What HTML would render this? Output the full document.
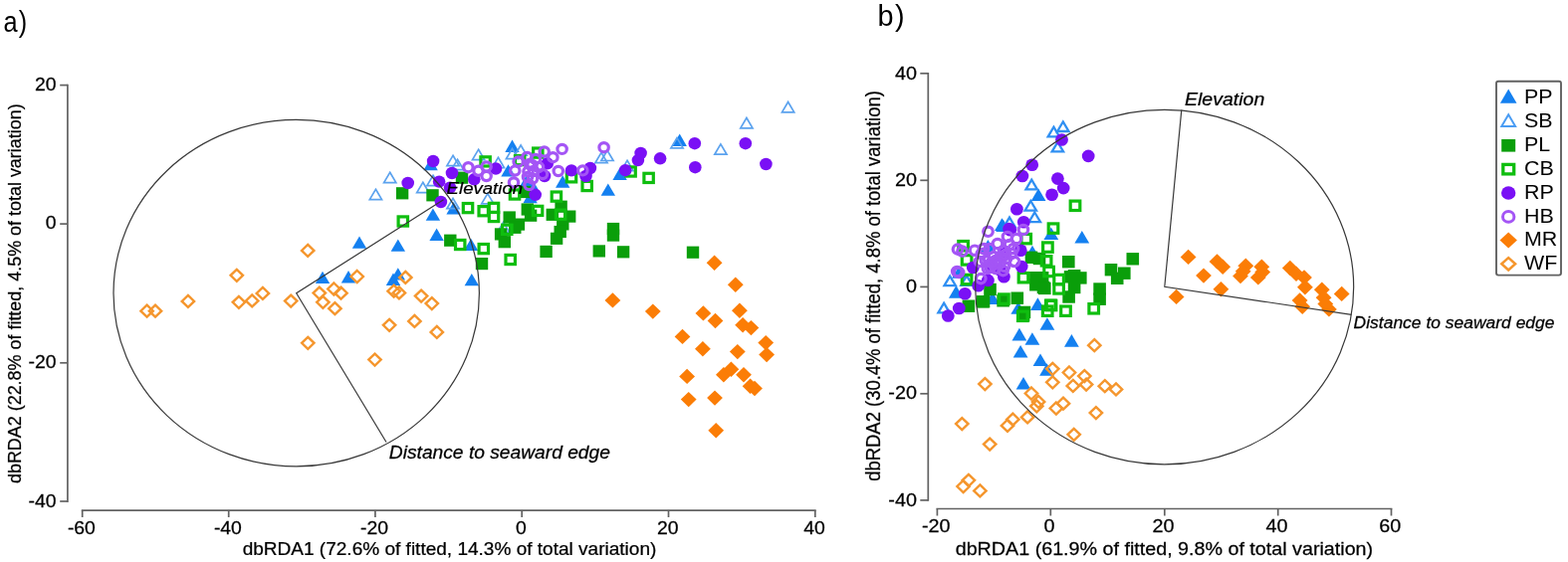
<!DOCTYPE html>
<html lang="en"><head><meta charset="utf-8"><title>dbRDA ordination</title>
<style>html,body{margin:0;padding:0;background:#fff;}body{width:1575px;height:565px;overflow:hidden;}svg{display:block;}text{font-family:"Liberation Sans",sans-serif;fill:#000;stroke:#000;stroke-width:0.25px;}.lb{font-style:italic;}.pl{stroke-width:0;}.pn{stroke-width:0;letter-spacing:1.5px;}.ax{stroke:#626262;stroke-width:1.7;fill:none;}.vc{stroke:#383838;stroke-width:1.2;fill:none;}</style></head><body>
<svg width="1575" height="565" viewBox="0 0 1575 565" role="img" aria-label="dbRDA ordination plots a and b">
<rect width="1575" height="565" fill="#fff"/>
<text class="pn" transform="translate(3.4 31.6) scale(0.880 1)" font-size="28.8" text-anchor="start">a)</text>
<text class="pn" transform="translate(881.4 26.3)" font-size="28.8" text-anchor="start">b)</text>
<path class="ax" d="M67.9 84.7 V504.9"/>
<path class="ax" d="M60.2 85.6 H67.9"/>
<text transform="translate(56.6 90.8) scale(1.060 1)" font-size="18.3" text-anchor="end">20</text>
<path class="ax" d="M60.2 225.1 H67.9"/>
<text transform="translate(56.6 230.1) scale(1.060 1)" font-size="18.3" text-anchor="end">0</text>
<path class="ax" d="M60.2 364.8 H67.9"/>
<text transform="translate(56.6 370.3) scale(1.060 1)" font-size="18.3" text-anchor="end">-20</text>
<path class="ax" d="M60.2 504 H67.9"/>
<text transform="translate(56.6 510.2) scale(1.060 1)" font-size="18.3" text-anchor="end">-40</text>
<path class="ax" d="M81.8 513.1 H819.7"/>
<path class="ax" d="M82.7 513.1 V520"/>
<text transform="translate(81.9 536.6) scale(1.060 1)" font-size="18.3" text-anchor="middle">-60</text>
<path class="ax" d="M229.7 513.1 V520"/>
<text transform="translate(228.9 536.6) scale(1.060 1)" font-size="18.3" text-anchor="middle">-40</text>
<path class="ax" d="M376.9 513.1 V520"/>
<text transform="translate(376.1 536.6) scale(1.060 1)" font-size="18.3" text-anchor="middle">-20</text>
<path class="ax" d="M524.2 513.1 V520"/>
<text transform="translate(523.4 536.6) scale(1.060 1)" font-size="18.3" text-anchor="middle">0</text>
<path class="ax" d="M671.5 513.1 V520"/>
<text transform="translate(670.7 536.6) scale(1.060 1)" font-size="18.3" text-anchor="middle">20</text>
<path class="ax" d="M818.8 513.1 V520"/>
<text transform="translate(818 536.6) scale(1.060 1)" font-size="18.3" text-anchor="middle">40</text>
<text transform="translate(451.5 557.8) scale(1.041 1)" font-size="18.3" text-anchor="middle">dbRDA1 (72.6% of fitted, 14.3% of total variation)</text>
<text transform="translate(21 295.2) rotate(-90) scale(0.944 1)" font-size="19" text-anchor="middle">dbRDA2 (22.8% of fitted, 4.5% of total variation)</text>
<path class="ax" d="M932.3 72.9 V503.8"/>
<path class="ax" d="M924.3 73.8 H932.3"/>
<text transform="translate(921 79.8) scale(1.060 1)" font-size="18.7" text-anchor="end">40</text>
<path class="ax" d="M924.3 181.3 H932.3"/>
<text transform="translate(921 186.7) scale(1.060 1)" font-size="18.7" text-anchor="end">20</text>
<path class="ax" d="M924.3 288.4 H932.3"/>
<text transform="translate(921 293.7) scale(1.060 1)" font-size="18.7" text-anchor="end">0</text>
<path class="ax" d="M924.3 395.8 H932.3"/>
<text transform="translate(921 400.9) scale(1.060 1)" font-size="18.7" text-anchor="end">-20</text>
<path class="ax" d="M924.3 502.9 H932.3"/>
<text transform="translate(921 509.4) scale(1.060 1)" font-size="18.7" text-anchor="end">-40</text>
<path class="ax" d="M940.5 511.5 H1398.4"/>
<path class="ax" d="M941.4 511.5 V518.5"/>
<text transform="translate(940.2 535.2) scale(1.060 1)" font-size="18.7" text-anchor="middle">-20</text>
<path class="ax" d="M1055.3 511.5 V518.5"/>
<text transform="translate(1054.1 535.2) scale(1.060 1)" font-size="18.7" text-anchor="middle">0</text>
<path class="ax" d="M1169.8 511.5 V518.5"/>
<text transform="translate(1168.6 535.2) scale(1.060 1)" font-size="18.7" text-anchor="middle">20</text>
<path class="ax" d="M1283.7 511.5 V518.5"/>
<text transform="translate(1282.5 535.2) scale(1.060 1)" font-size="18.7" text-anchor="middle">40</text>
<path class="ax" d="M1397.5 511.5 V518.5"/>
<text transform="translate(1396.3 535.2) scale(1.060 1)" font-size="18.7" text-anchor="middle">60</text>
<text transform="translate(1169.4 557.6) scale(1.054 1)" font-size="18.7" text-anchor="middle">dbRDA1 (61.9% of fitted, 9.8% of total variation)</text>
<text transform="translate(883.6 287.5) rotate(-90) scale(0.951 1)" font-size="19.4" text-anchor="middle">dbRDA2 (30.4% of fitted, 4.8% of total variation)</text>
<g id="pts-a">
<polygon points="324,272.7 331.2,285.1 316.8,285.1" fill="#1480f0"/>
<polygon points="350,272 357.2,284.4 342.8,284.4" fill="#1480f0"/>
<polygon points="361,237.4 368.2,249.8 353.8,249.8" fill="#1480f0"/>
<polygon points="399.8,240.4 407,252.8 392.6,252.8" fill="#1480f0"/>
<polygon points="438.6,229.6 445.8,242 431.4,242" fill="#1480f0"/>
<polygon points="473.1,239.7 480.3,252.1 465.9,252.1" fill="#1480f0"/>
<polygon points="395,274.6 402.2,287 387.8,287" fill="#1480f0"/>
<polygon points="399.8,269.2 407,281.6 392.6,281.6" fill="#1480f0"/>
<polygon points="473.8,274.9 481,287.3 466.6,287.3" fill="#1480f0"/>
<polygon points="432.6,158.8 439.8,171.2 425.4,171.2" fill="#1480f0"/>
<polygon points="434.9,209.4 442.1,221.8 427.7,221.8" fill="#1480f0"/>
<polygon points="455.6,203.1 462.8,215.5 448.4,215.5" fill="#1480f0"/>
<polygon points="514.5,140.6 521.7,153 507.3,153" fill="#1480f0"/>
<polygon points="510.5,165.2 517.7,177.6 503.3,177.6" fill="#1480f0"/>
<polygon points="682.7,134.5 689.9,146.9 675.5,146.9" fill="#1480f0"/>
<polygon points="622.6,168.6 629.8,181 615.4,181" fill="#1480f0"/>
<polygon points="565.2,176.3 572.4,188.7 558,188.7" fill="#1480f0"/>
<polygon points="532.6,191.8 539.8,204.2 525.4,204.2" fill="#1480f0"/>
<polygon points="533.3,177.8 540.5,190.2 526.1,190.2" fill="#1480f0"/>
<polygon points="610.8,184.4 618,196.8 603.6,196.8" fill="#1480f0"/>
<polygon points="529.3,175 536.5,187.4 522.1,187.4" fill="#1480f0"/>
<polygon points="391.7,173.3 397.8,183.6 385.6,183.6" fill="none" stroke="#5ba2ee" stroke-width="1.7"/>
<polygon points="377.4,190.3 383.5,200.6 371.3,200.6" fill="none" stroke="#5ba2ee" stroke-width="1.7"/>
<polygon points="424.8,183.3 430.9,193.6 418.7,193.6" fill="none" stroke="#5ba2ee" stroke-width="1.7"/>
<polygon points="435,176.3 441.1,186.6 428.9,186.6" fill="none" stroke="#5ba2ee" stroke-width="1.7"/>
<polygon points="455,156.3 461.1,166.6 448.9,166.6" fill="none" stroke="#5ba2ee" stroke-width="1.7"/>
<polygon points="459.5,160.3 465.6,170.6 453.4,170.6" fill="none" stroke="#5ba2ee" stroke-width="1.7"/>
<polygon points="480.6,150.3 486.7,160.6 474.5,160.6" fill="none" stroke="#5ba2ee" stroke-width="1.7"/>
<polygon points="489.8,194.6 495.9,204.9 483.7,204.9" fill="none" stroke="#5ba2ee" stroke-width="1.7"/>
<polygon points="455,199.4 461.1,209.7 448.9,209.7" fill="none" stroke="#5ba2ee" stroke-width="1.7"/>
<polygon points="514.5,149.4 520.6,159.7 508.4,159.7" fill="none" stroke="#5ba2ee" stroke-width="1.7"/>
<polygon points="523.1,146 529.2,156.2 517,156.2" fill="none" stroke="#5ba2ee" stroke-width="1.7"/>
<polygon points="500.4,158.3 506.5,168.6 494.3,168.6" fill="none" stroke="#5ba2ee" stroke-width="1.7"/>
<polygon points="604,153.4 610.1,163.7 597.9,163.7" fill="none" stroke="#5ba2ee" stroke-width="1.7"/>
<polygon points="610,151.2 616.1,161.5 603.9,161.5" fill="none" stroke="#5ba2ee" stroke-width="1.7"/>
<polygon points="630,161.3 636.1,171.6 623.9,171.6" fill="none" stroke="#5ba2ee" stroke-width="1.7"/>
<polygon points="680,138.6 686.1,148.9 673.9,148.9" fill="none" stroke="#5ba2ee" stroke-width="1.7"/>
<polygon points="723.9,144.9 730,155.2 717.8,155.2" fill="none" stroke="#5ba2ee" stroke-width="1.7"/>
<polygon points="749.9,118.5 756,128.8 743.8,128.8" fill="none" stroke="#5ba2ee" stroke-width="1.7"/>
<polygon points="791.6,102.5 797.7,112.8 785.5,112.8" fill="none" stroke="#5ba2ee" stroke-width="1.7"/>
<polygon points="505.6,223.3 511.7,233.6 499.5,233.6" fill="none" stroke="#5ba2ee" stroke-width="1.7"/>
<rect x="446.1" y="235.6" width="12.4" height="12.2" fill="#0a9e0a"/>
<rect x="477.8" y="259" width="12.4" height="12.2" fill="#0a9e0a"/>
<rect x="397.9" y="188.2" width="12.4" height="12.2" fill="#0a9e0a"/>
<rect x="428.3" y="190.2" width="12.4" height="12.2" fill="#0a9e0a"/>
<rect x="457.8" y="172.6" width="12.4" height="12.2" fill="#0a9e0a"/>
<rect x="520.8" y="186.9" width="12.4" height="12.2" fill="#0a9e0a"/>
<rect x="505.5" y="212.4" width="12.4" height="12.2" fill="#0a9e0a"/>
<rect x="514.7" y="219.5" width="12.4" height="12.2" fill="#0a9e0a"/>
<rect x="511.1" y="222.7" width="12.4" height="12.2" fill="#0a9e0a"/>
<rect x="496.9" y="229.3" width="12.4" height="12.2" fill="#0a9e0a"/>
<rect x="500.6" y="237.1" width="12.4" height="12.2" fill="#0a9e0a"/>
<rect x="523.6" y="204.4" width="12.4" height="12.2" fill="#0a9e0a"/>
<rect x="526.9" y="210.6" width="12.4" height="12.2" fill="#0a9e0a"/>
<rect x="557.4" y="201.6" width="12.4" height="12.2" fill="#0a9e0a"/>
<rect x="548.6" y="209.7" width="12.4" height="12.2" fill="#0a9e0a"/>
<rect x="566" y="211.5" width="12.4" height="12.2" fill="#0a9e0a"/>
<rect x="559.1" y="219.3" width="12.4" height="12.2" fill="#0a9e0a"/>
<rect x="556.5" y="226.9" width="12.4" height="12.2" fill="#0a9e0a"/>
<rect x="552.9" y="233.7" width="12.4" height="12.2" fill="#0a9e0a"/>
<rect x="542.4" y="246.8" width="12.4" height="12.2" fill="#0a9e0a"/>
<rect x="609.8" y="223.9" width="12.4" height="12.2" fill="#0a9e0a"/>
<rect x="609.8" y="230.5" width="12.4" height="12.2" fill="#0a9e0a"/>
<rect x="595.6" y="246.3" width="12.4" height="12.2" fill="#0a9e0a"/>
<rect x="619.9" y="247.2" width="12.4" height="12.2" fill="#0a9e0a"/>
<rect x="689.8" y="247.6" width="12.4" height="12.2" fill="#0a9e0a"/>
<rect x="457.5" y="241.4" width="9.4" height="9.2" fill="none" stroke="#0fbe0f" stroke-width="3.2"/>
<rect x="481.1" y="245.5" width="9.4" height="9.2" fill="none" stroke="#0fbe0f" stroke-width="3.2"/>
<rect x="508" y="256.4" width="9.4" height="9.2" fill="none" stroke="#0fbe0f" stroke-width="3.2"/>
<rect x="400.1" y="217.9" width="9.4" height="9.2" fill="none" stroke="#0fbe0f" stroke-width="3.2"/>
<rect x="465.3" y="204.5" width="9.4" height="9.2" fill="none" stroke="#0fbe0f" stroke-width="3.2"/>
<rect x="481" y="207.6" width="9.4" height="9.2" fill="none" stroke="#0fbe0f" stroke-width="3.2"/>
<rect x="491.3" y="204.3" width="9.4" height="9.2" fill="none" stroke="#0fbe0f" stroke-width="3.2"/>
<rect x="491.3" y="213.4" width="9.4" height="9.2" fill="none" stroke="#0fbe0f" stroke-width="3.2"/>
<rect x="512.3" y="190.9" width="9.4" height="9.2" fill="none" stroke="#0fbe0f" stroke-width="3.2"/>
<rect x="535.4" y="207.3" width="9.4" height="9.2" fill="none" stroke="#0fbe0f" stroke-width="3.2"/>
<rect x="554.2" y="193" width="9.4" height="9.2" fill="none" stroke="#0fbe0f" stroke-width="3.2"/>
<rect x="585" y="182.4" width="9.4" height="9.2" fill="none" stroke="#0fbe0f" stroke-width="3.2"/>
<rect x="558.4" y="211.1" width="9.4" height="9.2" fill="none" stroke="#0fbe0f" stroke-width="3.2"/>
<rect x="504.6" y="226.2" width="9.4" height="9.2" fill="none" stroke="#0fbe0f" stroke-width="3.2"/>
<rect x="482.9" y="157.8" width="9.4" height="9.2" fill="none" stroke="#0fbe0f" stroke-width="3.2"/>
<rect x="535.6" y="149" width="9.4" height="9.2" fill="none" stroke="#0fbe0f" stroke-width="3.2"/>
<rect x="517.5" y="156.5" width="9.4" height="9.2" fill="none" stroke="#0fbe0f" stroke-width="3.2"/>
<rect x="646.9" y="174.3" width="9.4" height="9.2" fill="none" stroke="#0fbe0f" stroke-width="3.2"/>
<rect x="628.9" y="167.9" width="9.4" height="9.2" fill="none" stroke="#0fbe0f" stroke-width="3.2"/>
<rect x="569.3" y="173.7" width="9.4" height="9.2" fill="none" stroke="#0fbe0f" stroke-width="3.2"/>
<ellipse cx="435.1" cy="162" rx="6.3" ry="6.2" fill="#7a10f5"/>
<ellipse cx="409.7" cy="184" rx="6.3" ry="6.2" fill="#7a10f5"/>
<ellipse cx="441.1" cy="182.6" rx="6.3" ry="6.2" fill="#7a10f5"/>
<ellipse cx="454" cy="174" rx="6.3" ry="6.2" fill="#7a10f5"/>
<ellipse cx="442.9" cy="203" rx="6.3" ry="6.2" fill="#7a10f5"/>
<ellipse cx="476.3" cy="180.3" rx="6.3" ry="6.2" fill="#7a10f5"/>
<ellipse cx="452" cy="188.6" rx="6.3" ry="6.2" fill="#7a10f5"/>
<ellipse cx="498" cy="169.5" rx="6.3" ry="6.2" fill="#7a10f5"/>
<ellipse cx="537.7" cy="195.8" rx="6.3" ry="6.2" fill="#7a10f5"/>
<ellipse cx="547" cy="177" rx="6.3" ry="6.2" fill="#7a10f5"/>
<ellipse cx="549.8" cy="164.3" rx="6.3" ry="6.2" fill="#7a10f5"/>
<ellipse cx="574" cy="171.4" rx="6.3" ry="6.2" fill="#7a10f5"/>
<ellipse cx="592.9" cy="169" rx="6.3" ry="6.2" fill="#7a10f5"/>
<ellipse cx="588.5" cy="177" rx="6.3" ry="6.2" fill="#7a10f5"/>
<ellipse cx="628.2" cy="171.2" rx="6.3" ry="6.2" fill="#7a10f5"/>
<ellipse cx="640.9" cy="161.1" rx="6.3" ry="6.2" fill="#7a10f5"/>
<ellipse cx="643.6" cy="154" rx="6.3" ry="6.2" fill="#7a10f5"/>
<ellipse cx="663.1" cy="159.3" rx="6.3" ry="6.2" fill="#7a10f5"/>
<ellipse cx="697.8" cy="144.2" rx="6.3" ry="6.2" fill="#7a10f5"/>
<ellipse cx="698.3" cy="168.2" rx="6.3" ry="6.2" fill="#7a10f5"/>
<ellipse cx="748.8" cy="144.2" rx="6.3" ry="6.2" fill="#7a10f5"/>
<ellipse cx="769.4" cy="165" rx="6.3" ry="6.2" fill="#7a10f5"/>
<ellipse cx="470.4" cy="168.2" rx="4.7" ry="4.6" fill="none" stroke="#a455f5" stroke-width="3.2"/>
<ellipse cx="480.5" cy="171.8" rx="4.7" ry="4.6" fill="none" stroke="#a455f5" stroke-width="3.2"/>
<ellipse cx="488.6" cy="177" rx="4.7" ry="4.6" fill="none" stroke="#a455f5" stroke-width="3.2"/>
<ellipse cx="488.6" cy="167.4" rx="4.7" ry="4.6" fill="none" stroke="#a455f5" stroke-width="3.2"/>
<ellipse cx="516" cy="183.5" rx="4.7" ry="4.6" fill="none" stroke="#a455f5" stroke-width="3.2"/>
<ellipse cx="517.3" cy="171.6" rx="4.7" ry="4.6" fill="none" stroke="#a455f5" stroke-width="3.2"/>
<ellipse cx="520.6" cy="162.5" rx="4.7" ry="4.6" fill="none" stroke="#a455f5" stroke-width="3.2"/>
<ellipse cx="529.5" cy="158" rx="4.7" ry="4.6" fill="none" stroke="#a455f5" stroke-width="3.2"/>
<ellipse cx="546.7" cy="152.5" rx="4.7" ry="4.6" fill="none" stroke="#a455f5" stroke-width="3.2"/>
<ellipse cx="555.4" cy="158.2" rx="4.7" ry="4.6" fill="none" stroke="#a455f5" stroke-width="3.2"/>
<ellipse cx="564.6" cy="149.9" rx="4.7" ry="4.6" fill="none" stroke="#a455f5" stroke-width="3.2"/>
<ellipse cx="606.6" cy="148.2" rx="4.7" ry="4.6" fill="none" stroke="#a455f5" stroke-width="3.2"/>
<ellipse cx="560.8" cy="172" rx="4.7" ry="4.6" fill="none" stroke="#a455f5" stroke-width="3.2"/>
<ellipse cx="585.3" cy="171.4" rx="4.7" ry="4.6" fill="none" stroke="#a455f5" stroke-width="3.2"/>
<ellipse cx="532" cy="165" rx="4.7" ry="4.6" fill="none" stroke="#a455f5" stroke-width="3.2"/>
<ellipse cx="536" cy="172" rx="4.7" ry="4.6" fill="none" stroke="#a455f5" stroke-width="3.2"/>
<ellipse cx="541" cy="168" rx="4.7" ry="4.6" fill="none" stroke="#a455f5" stroke-width="3.2"/>
<ellipse cx="545" cy="175" rx="4.7" ry="4.6" fill="none" stroke="#a455f5" stroke-width="3.2"/>
<ellipse cx="530" cy="178" rx="4.7" ry="4.6" fill="none" stroke="#a455f5" stroke-width="3.2"/>
<ellipse cx="538" cy="160" rx="4.7" ry="4.6" fill="none" stroke="#a455f5" stroke-width="3.2"/>
<ellipse cx="534.5" cy="166" rx="4.7" ry="4.6" fill="none" stroke="#a455f5" stroke-width="3.2"/>
<ellipse cx="530.5" cy="172.5" rx="4.7" ry="4.6" fill="none" stroke="#a455f5" stroke-width="3.2"/>
<ellipse cx="535" cy="179.5" rx="4.7" ry="4.6" fill="none" stroke="#a455f5" stroke-width="3.2"/>
<ellipse cx="531.5" cy="186" rx="4.7" ry="4.6" fill="none" stroke="#a455f5" stroke-width="3.2"/>
<polygon points="717.6,256.5 725.5,264.2 717.6,271.9 709.7,264.2" fill="#fb7d06"/>
<polygon points="738.8,278.5 746.7,286.2 738.8,293.9 730.9,286.2" fill="#fb7d06"/>
<polygon points="615.4,294.2 623.3,301.9 615.4,309.6 607.5,301.9" fill="#fb7d06"/>
<polygon points="655.8,305.4 663.7,313.1 655.8,320.8 647.9,313.1" fill="#fb7d06"/>
<polygon points="706.4,307.2 714.3,314.9 706.4,322.6 698.5,314.9" fill="#fb7d06"/>
<polygon points="718.5,314.8 726.4,322.5 718.5,330.2 710.6,322.5" fill="#fb7d06"/>
<polygon points="742.9,304.5 750.8,312.2 742.9,319.9 735,312.2" fill="#fb7d06"/>
<polygon points="746.1,319.1 754,326.8 746.1,334.5 738.2,326.8" fill="#fb7d06"/>
<polygon points="754.4,321.9 762.3,329.6 754.4,337.3 746.5,329.6" fill="#fb7d06"/>
<polygon points="685.5,330.7 693.4,338.4 685.5,346.1 677.6,338.4" fill="#fb7d06"/>
<polygon points="769.2,336.9 777.1,344.6 769.2,352.3 761.3,344.6" fill="#fb7d06"/>
<polygon points="705.9,343.1 713.8,350.8 705.9,358.5 698,350.8" fill="#fb7d06"/>
<polygon points="740.8,345.9 748.7,353.6 740.8,361.3 732.9,353.6" fill="#fb7d06"/>
<polygon points="770.1,348.9 778,356.6 770.1,364.3 762.2,356.6" fill="#fb7d06"/>
<polygon points="690.1,370.7 698,378.4 690.1,386.1 682.2,378.4" fill="#fb7d06"/>
<polygon points="726.9,369 734.8,376.7 726.9,384.4 719,376.7" fill="#fb7d06"/>
<polygon points="734.4,363.6 742.3,371.3 734.4,379 726.5,371.3" fill="#fb7d06"/>
<polygon points="747,369 754.9,376.7 747,384.4 739.1,376.7" fill="#fb7d06"/>
<polygon points="753.6,380.5 761.5,388.2 753.6,395.9 745.7,388.2" fill="#fb7d06"/>
<polygon points="758,382.8 765.9,390.5 758,398.2 750.1,390.5" fill="#fb7d06"/>
<polygon points="691.7,393.9 699.6,401.6 691.7,409.3 683.8,401.6" fill="#fb7d06"/>
<polygon points="718,392.4 725.9,400.1 718,407.8 710.1,400.1" fill="#fb7d06"/>
<polygon points="719.2,425 727.1,432.7 719.2,440.4 711.3,432.7" fill="#fb7d06"/>
<polygon points="147.6,306.7 153.8,312.7 147.6,318.7 141.4,312.7" fill="none" stroke="#f5962d" stroke-width="2.4"/>
<polygon points="156,306.7 162.2,312.7 156,318.7 149.8,312.7" fill="none" stroke="#f5962d" stroke-width="2.4"/>
<polygon points="188.9,296.9 195.1,302.9 188.9,308.9 182.7,302.9" fill="none" stroke="#f5962d" stroke-width="2.4"/>
<polygon points="237.8,270.8 244,276.8 237.8,282.8 231.6,276.8" fill="none" stroke="#f5962d" stroke-width="2.4"/>
<polygon points="239.9,297.8 246.1,303.8 239.9,309.8 233.7,303.8" fill="none" stroke="#f5962d" stroke-width="2.4"/>
<polygon points="253.2,296.4 259.4,302.4 253.2,308.4 247,302.4" fill="none" stroke="#f5962d" stroke-width="2.4"/>
<polygon points="263.9,288.9 270.1,294.9 263.9,300.9 257.7,294.9" fill="none" stroke="#f5962d" stroke-width="2.4"/>
<polygon points="292.2,296.6 298.4,302.6 292.2,308.6 286,302.6" fill="none" stroke="#f5962d" stroke-width="2.4"/>
<polygon points="309.2,245.9 315.4,251.9 309.2,257.9 303,251.9" fill="none" stroke="#f5962d" stroke-width="2.4"/>
<polygon points="320.8,288.6 327,294.6 320.8,300.6 314.6,294.6" fill="none" stroke="#f5962d" stroke-width="2.4"/>
<polygon points="324.4,297.8 330.6,303.8 324.4,309.8 318.2,303.8" fill="none" stroke="#f5962d" stroke-width="2.4"/>
<polygon points="335.4,284.5 341.6,290.5 335.4,296.5 329.2,290.5" fill="none" stroke="#f5962d" stroke-width="2.4"/>
<polygon points="342.5,288.7 348.7,294.7 342.5,300.7 336.3,294.7" fill="none" stroke="#f5962d" stroke-width="2.4"/>
<polygon points="336.4,304.2 342.6,310.2 336.4,316.2 330.2,310.2" fill="none" stroke="#f5962d" stroke-width="2.4"/>
<polygon points="309.3,338.8 315.5,344.8 309.3,350.8 303.1,344.8" fill="none" stroke="#f5962d" stroke-width="2.4"/>
<polygon points="376.5,355.6 382.7,361.6 376.5,367.6 370.3,361.6" fill="none" stroke="#f5962d" stroke-width="2.4"/>
<polygon points="391.1,320.8 397.3,326.8 391.1,332.8 384.9,326.8" fill="none" stroke="#f5962d" stroke-width="2.4"/>
<polygon points="416.4,316.9 422.6,322.9 416.4,328.9 410.2,322.9" fill="none" stroke="#f5962d" stroke-width="2.4"/>
<polygon points="438.8,327.9 445,333.9 438.8,339.9 432.6,333.9" fill="none" stroke="#f5962d" stroke-width="2.4"/>
<polygon points="423.1,291.6 429.3,297.6 423.1,303.6 416.9,297.6" fill="none" stroke="#f5962d" stroke-width="2.4"/>
<polygon points="433.8,299.1 440,305.1 433.8,311.1 427.6,305.1" fill="none" stroke="#f5962d" stroke-width="2.4"/>
<polygon points="395.6,286.7 401.8,292.7 395.6,298.7 389.4,292.7" fill="none" stroke="#f5962d" stroke-width="2.4"/>
<polygon points="400.9,288.4 407.1,294.4 400.9,300.4 394.7,294.4" fill="none" stroke="#f5962d" stroke-width="2.4"/>
<polygon points="358.7,272 364.9,278 358.7,284 352.5,278" fill="none" stroke="#f5962d" stroke-width="2.4"/>
<polygon points="407.3,272.9 413.5,278.9 407.3,284.9 401.1,278.9" fill="none" stroke="#f5962d" stroke-width="2.4"/>
</g>
<g id="pts-b">
<polygon points="1043.1,189.5 1050.5,202.1 1035.7,202.1" fill="#1480f0"/>
<polygon points="1006.4,219.3 1013.8,231.9 999,231.9" fill="#1480f0"/>
<polygon points="1055.8,228.5 1063.2,241.1 1048.4,241.1" fill="#1480f0"/>
<polygon points="1086.8,231.9 1094.2,244.5 1079.4,244.5" fill="#1480f0"/>
<polygon points="1007.6,220.5 1015,233.1 1000.2,233.1" fill="#1480f0"/>
<polygon points="992.4,240.9 999.8,253.5 985,253.5" fill="#1480f0"/>
<polygon points="960.4,287.1 967.8,299.7 953,299.7" fill="#1480f0"/>
<polygon points="996.9,293.4 1004.3,306 989.5,306" fill="#1480f0"/>
<polygon points="1042.4,299.3 1049.8,311.9 1035,311.9" fill="#1480f0"/>
<polygon points="1022.8,303.2 1030.2,315.8 1015.4,315.8" fill="#1480f0"/>
<polygon points="1051.9,319.2 1059.3,331.8 1044.5,331.8" fill="#1480f0"/>
<polygon points="1023.9,329.8 1031.3,342.4 1016.5,342.4" fill="#1480f0"/>
<polygon points="1036.9,334.2 1044.3,346.8 1029.5,346.8" fill="#1480f0"/>
<polygon points="1076.4,336.1 1083.8,348.7 1069,348.7" fill="#1480f0"/>
<polygon points="1025.1,347 1032.5,359.6 1017.7,359.6" fill="#1480f0"/>
<polygon points="1045,355.5 1052.4,368.1 1037.6,368.1" fill="#1480f0"/>
<polygon points="1051.5,365.2 1058.9,377.8 1044.1,377.8" fill="#1480f0"/>
<polygon points="1028,378.9 1035.4,391.5 1020.6,391.5" fill="#1480f0"/>
<polygon points="1037,246.7 1044.4,259.3 1029.6,259.3" fill="#1480f0"/>
<polygon points="963.5,267.2 970.9,279.8 956.1,279.8" fill="#1480f0"/>
<polygon points="1067.8,122.4 1073.5,132 1062.1,132" fill="none" stroke="#2f8ff2" stroke-width="2.3"/>
<polygon points="1058.4,127.7 1064.1,137.3 1052.7,137.3" fill="none" stroke="#2f8ff2" stroke-width="2.3"/>
<polygon points="1062.4,142.8 1068.1,152.4 1056.7,152.4" fill="none" stroke="#2f8ff2" stroke-width="2.3"/>
<polygon points="1036.2,180.7 1041.9,190.3 1030.5,190.3" fill="none" stroke="#2f8ff2" stroke-width="2.3"/>
<polygon points="1035.3,202 1041,211.7 1029.6,211.7" fill="none" stroke="#2f8ff2" stroke-width="2.3"/>
<polygon points="1039.3,213.5 1045,223.2 1033.6,223.2" fill="none" stroke="#2f8ff2" stroke-width="2.3"/>
<polygon points="1014,218.6 1019.7,228.2 1008.3,228.2" fill="none" stroke="#2f8ff2" stroke-width="2.3"/>
<polygon points="954.2,277.6 959.9,287.2 948.5,287.2" fill="none" stroke="#2f8ff2" stroke-width="2.3"/>
<polygon points="948.1,304.7 953.8,314.4 942.4,314.4" fill="none" stroke="#2f8ff2" stroke-width="2.3"/>
<polygon points="971,277.2 976.7,286.9 965.3,286.9" fill="none" stroke="#2f8ff2" stroke-width="2.3"/>
<rect x="1029.7" y="252.6" width="12.6" height="12.4" fill="#0a9e0a"/>
<rect x="1067" y="257" width="12.6" height="12.4" fill="#0a9e0a"/>
<rect x="1131.5" y="254.1" width="12.6" height="12.4" fill="#0a9e0a"/>
<rect x="1109.7" y="265" width="12.6" height="12.4" fill="#0a9e0a"/>
<rect x="1123" y="268.5" width="12.6" height="12.4" fill="#0a9e0a"/>
<rect x="1115.9" y="273.6" width="12.6" height="12.4" fill="#0a9e0a"/>
<rect x="1072.8" y="271" width="12.6" height="12.4" fill="#0a9e0a"/>
<rect x="1079" y="273.2" width="12.6" height="12.4" fill="#0a9e0a"/>
<rect x="1072.8" y="282.8" width="12.6" height="12.4" fill="#0a9e0a"/>
<rect x="1067.3" y="292.3" width="12.6" height="12.4" fill="#0a9e0a"/>
<rect x="1098.3" y="284.3" width="12.6" height="12.4" fill="#0a9e0a"/>
<rect x="1098.3" y="294.5" width="12.6" height="12.4" fill="#0a9e0a"/>
<rect x="1040.8" y="273" width="12.6" height="12.4" fill="#0a9e0a"/>
<rect x="1041.7" y="282.8" width="12.6" height="12.4" fill="#0a9e0a"/>
<rect x="1034.1" y="273" width="12.6" height="12.4" fill="#0a9e0a"/>
<rect x="1034.1" y="280.1" width="12.6" height="12.4" fill="#0a9e0a"/>
<rect x="1043" y="283.7" width="12.6" height="12.4" fill="#0a9e0a"/>
<rect x="981.7" y="297" width="12.6" height="12.4" fill="#0a9e0a"/>
<rect x="966.6" y="301.5" width="12.6" height="12.4" fill="#0a9e0a"/>
<rect x="1001.3" y="296.1" width="12.6" height="12.4" fill="#0a9e0a"/>
<rect x="1015.5" y="293.5" width="12.6" height="12.4" fill="#0a9e0a"/>
<rect x="1068.8" y="272.1" width="12.6" height="12.4" fill="#0a9e0a"/>
<rect x="1022.6" y="307.7" width="12.6" height="12.4" fill="#0a9e0a"/>
<rect x="1021.7" y="311" width="12.6" height="12.4" fill="#0a9e0a"/>
<rect x="980.9" y="297" width="12.6" height="12.4" fill="#0a9e0a"/>
<rect x="1037.7" y="253.8" width="12.6" height="12.4" fill="#0a9e0a"/>
<rect x="988.2" y="284.8" width="12.6" height="12.4" fill="#0a9e0a"/>
<rect x="962.8" y="242.5" width="9.6" height="9.4" fill="none" stroke="#0fbe0f" stroke-width="3.2"/>
<rect x="1025.9" y="235.4" width="9.6" height="9.4" fill="none" stroke="#0fbe0f" stroke-width="3.2"/>
<rect x="1053.2" y="224.9" width="9.6" height="9.4" fill="none" stroke="#0fbe0f" stroke-width="3.2"/>
<rect x="1047.6" y="243.9" width="9.6" height="9.4" fill="none" stroke="#0fbe0f" stroke-width="3.2"/>
<rect x="966.3" y="256.7" width="9.6" height="9.4" fill="none" stroke="#0fbe0f" stroke-width="3.2"/>
<rect x="1046.3" y="257.6" width="9.6" height="9.4" fill="none" stroke="#0fbe0f" stroke-width="3.2"/>
<rect x="1048.8" y="268.3" width="9.6" height="9.4" fill="none" stroke="#0fbe0f" stroke-width="3.2"/>
<rect x="1058.8" y="276.3" width="9.6" height="9.4" fill="none" stroke="#0fbe0f" stroke-width="3.2"/>
<rect x="1058.8" y="285.7" width="9.6" height="9.4" fill="none" stroke="#0fbe0f" stroke-width="3.2"/>
<rect x="1050.5" y="302.1" width="9.6" height="9.4" fill="none" stroke="#0fbe0f" stroke-width="3.2"/>
<rect x="1065.7" y="308" width="9.6" height="9.4" fill="none" stroke="#0fbe0f" stroke-width="3.2"/>
<rect x="1093.9" y="305.6" width="9.6" height="9.4" fill="none" stroke="#0fbe0f" stroke-width="3.2"/>
<rect x="966.3" y="276.3" width="9.6" height="9.4" fill="none" stroke="#0fbe0f" stroke-width="3.2"/>
<rect x="1023.2" y="274.5" width="9.6" height="9.4" fill="none" stroke="#0fbe0f" stroke-width="3.2"/>
<rect x="1003.6" y="295.9" width="9.6" height="9.4" fill="none" stroke="#0fbe0f" stroke-width="3.2"/>
<rect x="1022.5" y="313.1" width="9.6" height="9.4" fill="none" stroke="#0fbe0f" stroke-width="3.2"/>
<rect x="1051.2" y="302.3" width="9.6" height="9.4" fill="none" stroke="#0fbe0f" stroke-width="3.2"/>
<rect x="1047.4" y="308" width="9.6" height="9.4" fill="none" stroke="#0fbe0f" stroke-width="3.2"/>
<rect x="1075.2" y="202.1" width="9.6" height="9.4" fill="none" stroke="#0fbe0f" stroke-width="3.2"/>
<ellipse cx="1066.5" cy="140.5" rx="6.4" ry="6.3" fill="#7a10f5"/>
<ellipse cx="1093.2" cy="156.9" rx="6.4" ry="6.3" fill="#7a10f5"/>
<ellipse cx="1036.7" cy="165.8" rx="6.4" ry="6.3" fill="#7a10f5"/>
<ellipse cx="1026.9" cy="177" rx="6.4" ry="6.3" fill="#7a10f5"/>
<ellipse cx="1062.4" cy="179.6" rx="6.4" ry="6.3" fill="#7a10f5"/>
<ellipse cx="1068.2" cy="189.1" rx="6.4" ry="6.3" fill="#7a10f5"/>
<ellipse cx="1056.6" cy="195.8" rx="6.4" ry="6.3" fill="#7a10f5"/>
<ellipse cx="1021.4" cy="210.3" rx="6.4" ry="6.3" fill="#7a10f5"/>
<ellipse cx="1028.3" cy="223.2" rx="6.4" ry="6.3" fill="#7a10f5"/>
<ellipse cx="1013.6" cy="230" rx="6.4" ry="6.3" fill="#7a10f5"/>
<ellipse cx="1014.7" cy="231.2" rx="6.4" ry="6.3" fill="#7a10f5"/>
<ellipse cx="1025.3" cy="251.7" rx="6.4" ry="6.3" fill="#7a10f5"/>
<ellipse cx="977.3" cy="269" rx="6.4" ry="6.3" fill="#7a10f5"/>
<ellipse cx="1026.2" cy="268" rx="6.4" ry="6.3" fill="#7a10f5"/>
<ellipse cx="969.3" cy="295.2" rx="6.4" ry="6.3" fill="#7a10f5"/>
<ellipse cx="963.3" cy="310" rx="6.4" ry="6.3" fill="#7a10f5"/>
<ellipse cx="992.4" cy="281.9" rx="6.4" ry="6.3" fill="#7a10f5"/>
<ellipse cx="1008.4" cy="278.3" rx="6.4" ry="6.3" fill="#7a10f5"/>
<ellipse cx="982.7" cy="287.2" rx="6.4" ry="6.3" fill="#7a10f5"/>
<ellipse cx="952.3" cy="317.5" rx="6.4" ry="6.3" fill="#7a10f5"/>
<ellipse cx="995" cy="268.5" rx="6.4" ry="6.3" fill="#7a10f5"/>
<ellipse cx="1009.5" cy="255" rx="6.4" ry="6.3" fill="#7a10f5"/>
<ellipse cx="1004" cy="271" rx="6.4" ry="6.3" fill="#7a10f5"/>
<ellipse cx="992.5" cy="232.8" rx="4.8" ry="4.7" fill="none" stroke="#a455f5" stroke-width="3.2"/>
<ellipse cx="1027.9" cy="231" rx="4.8" ry="4.7" fill="none" stroke="#a455f5" stroke-width="3.2"/>
<ellipse cx="962" cy="250.6" rx="4.8" ry="4.7" fill="none" stroke="#a455f5" stroke-width="3.2"/>
<ellipse cx="966.5" cy="252.6" rx="4.8" ry="4.7" fill="none" stroke="#a455f5" stroke-width="3.2"/>
<ellipse cx="979.1" cy="251.7" rx="4.8" ry="4.7" fill="none" stroke="#a455f5" stroke-width="3.2"/>
<ellipse cx="961.3" cy="273" rx="4.8" ry="4.7" fill="none" stroke="#a455f5" stroke-width="3.2"/>
<ellipse cx="963.1" cy="273.9" rx="4.8" ry="4.7" fill="none" stroke="#a455f5" stroke-width="3.2"/>
<ellipse cx="985.3" cy="280.1" rx="4.8" ry="4.7" fill="none" stroke="#a455f5" stroke-width="3.2"/>
<ellipse cx="995.1" cy="268.6" rx="4.8" ry="4.7" fill="none" stroke="#a455f5" stroke-width="3.2"/>
<ellipse cx="1007.6" cy="272.1" rx="4.8" ry="4.7" fill="none" stroke="#a455f5" stroke-width="3.2"/>
<ellipse cx="986" cy="255" rx="4.8" ry="4.7" fill="none" stroke="#a455f5" stroke-width="3.2"/>
<ellipse cx="990" cy="262" rx="4.8" ry="4.7" fill="none" stroke="#a455f5" stroke-width="3.2"/>
<ellipse cx="994" cy="250" rx="4.8" ry="4.7" fill="none" stroke="#a455f5" stroke-width="3.2"/>
<ellipse cx="998" cy="258" rx="4.8" ry="4.7" fill="none" stroke="#a455f5" stroke-width="3.2"/>
<ellipse cx="1002" cy="245" rx="4.8" ry="4.7" fill="none" stroke="#a455f5" stroke-width="3.2"/>
<ellipse cx="1004" cy="265" rx="4.8" ry="4.7" fill="none" stroke="#a455f5" stroke-width="3.2"/>
<ellipse cx="1008" cy="252" rx="4.8" ry="4.7" fill="none" stroke="#a455f5" stroke-width="3.2"/>
<ellipse cx="1011" cy="260" rx="4.8" ry="4.7" fill="none" stroke="#a455f5" stroke-width="3.2"/>
<ellipse cx="1014" cy="246" rx="4.8" ry="4.7" fill="none" stroke="#a455f5" stroke-width="3.2"/>
<ellipse cx="1016" cy="255" rx="4.8" ry="4.7" fill="none" stroke="#a455f5" stroke-width="3.2"/>
<ellipse cx="1019" cy="263" rx="4.8" ry="4.7" fill="none" stroke="#a455f5" stroke-width="3.2"/>
<ellipse cx="1000" cy="270" rx="4.8" ry="4.7" fill="none" stroke="#a455f5" stroke-width="3.2"/>
<ellipse cx="992" cy="270" rx="4.8" ry="4.7" fill="none" stroke="#a455f5" stroke-width="3.2"/>
<ellipse cx="984" cy="263" rx="4.8" ry="4.7" fill="none" stroke="#a455f5" stroke-width="3.2"/>
<ellipse cx="1021" cy="240" rx="4.8" ry="4.7" fill="none" stroke="#a455f5" stroke-width="3.2"/>
<ellipse cx="1012" cy="238" rx="4.8" ry="4.7" fill="none" stroke="#a455f5" stroke-width="3.2"/>
<ellipse cx="1005" cy="258" rx="4.8" ry="4.7" fill="none" stroke="#a455f5" stroke-width="3.2"/>
<ellipse cx="988" cy="250" rx="4.8" ry="4.7" fill="none" stroke="#a455f5" stroke-width="3.2"/>
<ellipse cx="1000" cy="262" rx="4.8" ry="4.7" fill="none" stroke="#a455f5" stroke-width="3.2"/>
<ellipse cx="1010" cy="256" rx="4.8" ry="4.7" fill="none" stroke="#a455f5" stroke-width="3.2"/>
<ellipse cx="996" cy="264" rx="4.8" ry="4.7" fill="none" stroke="#a455f5" stroke-width="3.2"/>
<ellipse cx="1018" cy="250" rx="4.8" ry="4.7" fill="none" stroke="#a455f5" stroke-width="3.2"/>
<ellipse cx="1009" cy="268" rx="4.8" ry="4.7" fill="none" stroke="#a455f5" stroke-width="3.2"/>
<polygon points="1193.6,250.7 1201.5,258.4 1193.6,266.1 1185.7,258.4" fill="#fb7d06"/>
<polygon points="1181.6,290.7 1189.5,298.4 1181.6,306.1 1173.7,298.4" fill="#fb7d06"/>
<polygon points="1209,269.4 1216.9,277.1 1209,284.8 1201.1,277.1" fill="#fb7d06"/>
<polygon points="1222.5,255.2 1230.4,262.9 1222.5,270.6 1214.6,262.9" fill="#fb7d06"/>
<polygon points="1228.2,260.5 1236.1,268.2 1228.2,275.9 1220.3,268.2" fill="#fb7d06"/>
<polygon points="1226.4,283.1 1234.3,290.8 1226.4,298.5 1218.5,290.8" fill="#fb7d06"/>
<polygon points="1251.3,259.6 1259.2,267.3 1251.3,275 1243.4,267.3" fill="#fb7d06"/>
<polygon points="1246,269.9 1253.9,277.6 1246,285.3 1238.1,277.6" fill="#fb7d06"/>
<polygon points="1248.7,265 1256.6,272.7 1248.7,280.4 1240.8,272.7" fill="#fb7d06"/>
<polygon points="1267.3,260.5 1275.2,268.2 1267.3,275.9 1259.4,268.2" fill="#fb7d06"/>
<polygon points="1263.8,271.2 1271.7,278.9 1263.8,286.6 1255.9,278.9" fill="#fb7d06"/>
<polygon points="1268.2,265.9 1276.1,273.6 1268.2,281.3 1260.3,273.6" fill="#fb7d06"/>
<polygon points="1295.8,261.8 1303.7,269.5 1295.8,277.2 1287.9,269.5" fill="#fb7d06"/>
<polygon points="1302,267.6 1309.9,275.3 1302,283 1294.1,275.3" fill="#fb7d06"/>
<polygon points="1310,271.2 1317.9,278.9 1310,286.6 1302.1,278.9" fill="#fb7d06"/>
<polygon points="1310.9,281 1318.8,288.7 1310.9,296.4 1303,288.7" fill="#fb7d06"/>
<polygon points="1327.8,283.6 1335.7,291.3 1327.8,299 1319.9,291.3" fill="#fb7d06"/>
<polygon points="1347.7,287.7 1355.6,295.4 1347.7,303.1 1339.8,295.4" fill="#fb7d06"/>
<polygon points="1305.6,294.3 1313.5,302 1305.6,309.7 1297.7,302" fill="#fb7d06"/>
<polygon points="1308.2,300.5 1316.1,308.2 1308.2,315.9 1300.3,308.2" fill="#fb7d06"/>
<polygon points="1329.6,291.6 1337.5,299.3 1329.6,307 1321.7,299.3" fill="#fb7d06"/>
<polygon points="1331.3,297.9 1339.2,305.6 1331.3,313.3 1323.4,305.6" fill="#fb7d06"/>
<polygon points="1334.9,303.2 1342.8,310.9 1334.9,318.6 1327,310.9" fill="#fb7d06"/>
<polygon points="1099.3,341.2 1105.5,347.2 1099.3,353.2 1093.1,347.2" fill="none" stroke="#f5962d" stroke-width="2.4"/>
<polygon points="1057.3,364.8 1063.5,370.8 1057.3,376.8 1051.1,370.8" fill="none" stroke="#f5962d" stroke-width="2.4"/>
<polygon points="1074,368.5 1080.2,374.5 1074,380.5 1067.8,374.5" fill="none" stroke="#f5962d" stroke-width="2.4"/>
<polygon points="1089.3,372.1 1095.5,378.1 1089.3,384.1 1083.1,378.1" fill="none" stroke="#f5962d" stroke-width="2.4"/>
<polygon points="1057.3,378.3 1063.5,384.3 1057.3,390.3 1051.1,384.3" fill="none" stroke="#f5962d" stroke-width="2.4"/>
<polygon points="1077.8,381.9 1084,387.9 1077.8,393.9 1071.6,387.9" fill="none" stroke="#f5962d" stroke-width="2.4"/>
<polygon points="1091.1,380.6 1097.3,386.6 1091.1,392.6 1084.9,386.6" fill="none" stroke="#f5962d" stroke-width="2.4"/>
<polygon points="1109.8,382.2 1116,388.2 1109.8,394.2 1103.6,388.2" fill="none" stroke="#f5962d" stroke-width="2.4"/>
<polygon points="1121,385.4 1127.2,391.4 1121,397.4 1114.8,391.4" fill="none" stroke="#f5962d" stroke-width="2.4"/>
<polygon points="989.4,380.1 995.6,386.1 989.4,392.1 983.2,386.1" fill="none" stroke="#f5962d" stroke-width="2.4"/>
<polygon points="1036,389.5 1042.2,395.5 1036,401.5 1029.8,395.5" fill="none" stroke="#f5962d" stroke-width="2.4"/>
<polygon points="1043.1,397.9 1049.3,403.9 1043.1,409.9 1036.9,403.9" fill="none" stroke="#f5962d" stroke-width="2.4"/>
<polygon points="1041.3,402.3 1047.5,408.3 1041.3,414.3 1035.1,408.3" fill="none" stroke="#f5962d" stroke-width="2.4"/>
<polygon points="1068,399.7 1074.2,405.7 1068,411.7 1061.8,405.7" fill="none" stroke="#f5962d" stroke-width="2.4"/>
<polygon points="1060.9,404.5 1067.1,410.5 1060.9,416.5 1054.7,410.5" fill="none" stroke="#f5962d" stroke-width="2.4"/>
<polygon points="1100.9,409.1 1107.1,415.1 1100.9,421.1 1094.7,415.1" fill="none" stroke="#f5962d" stroke-width="2.4"/>
<polygon points="1017.3,415.7 1023.5,421.7 1017.3,427.7 1011.1,421.7" fill="none" stroke="#f5962d" stroke-width="2.4"/>
<polygon points="1012,421.9 1018.2,427.9 1012,433.9 1005.8,427.9" fill="none" stroke="#f5962d" stroke-width="2.4"/>
<polygon points="1032.1,413.4 1038.3,419.4 1032.1,425.4 1025.9,419.4" fill="none" stroke="#f5962d" stroke-width="2.4"/>
<polygon points="966.3,420.1 972.5,426.1 966.3,432.1 960.1,426.1" fill="none" stroke="#f5962d" stroke-width="2.4"/>
<polygon points="1078.7,430.8 1084.9,436.8 1078.7,442.8 1072.5,436.8" fill="none" stroke="#f5962d" stroke-width="2.4"/>
<polygon points="994.2,440.6 1000.4,446.6 994.2,452.6 988,446.6" fill="none" stroke="#f5962d" stroke-width="2.4"/>
<polygon points="972.9,476.8 979.1,482.8 972.9,488.8 966.7,482.8" fill="none" stroke="#f5962d" stroke-width="2.4"/>
<polygon points="967.6,483 973.8,489 967.6,495 961.4,489" fill="none" stroke="#f5962d" stroke-width="2.4"/>
<polygon points="984.4,487.4 990.6,493.4 984.4,499.4 978.2,493.4" fill="none" stroke="#f5962d" stroke-width="2.4"/>
</g>
<ellipse class="vc" cx="297.7" cy="294.65" rx="183.7" ry="174.2"/>
<path class="vc" d="M445.5 200.8 L297.7 294.7 L388 444.5"/>
<ellipse class="vc" cx="1169.7" cy="288.6" rx="190" ry="178.3"/>
<path class="vc" d="M1186.8 110.5 L1169.8 288.3 L1357.5 316.3"/>
<text class="lb" transform="translate(448.6 195.2) scale(1.075 1)" font-size="17.3" text-anchor="start">Elevation</text>
<text class="lb" transform="translate(390.8 460.9) scale(1.068 1)" font-size="18" text-anchor="start">Distance to seaward edge</text>
<text class="lb" transform="translate(1190 106.2) scale(1.085 1)" font-size="18" text-anchor="start">Elevation</text>
<text class="lb" transform="translate(1359.6 330.4) scale(1.010 1)" font-size="17.3" text-anchor="start">Distance to seaward edge</text>
<rect x="1503" y="81.8" width="65" height="194.8" rx="2" ry="2" fill="#fff" stroke="#626262" stroke-width="1.9"/>
<polygon points="1515.2,89.5 1523.5,103.7 1506.9,103.7" fill="#1480f0"/>
<text class="pl" transform="translate(1531 104.3) scale(1.050 1)" font-size="20.4" text-anchor="start">PP</text>
<polygon points="1515.2,115.2 1522.1,126.9 1508.3,126.9" fill="none" stroke="#4a9cf3" stroke-width="2"/>
<text class="pl" transform="translate(1531 127.5) scale(1.050 1)" font-size="20.4" text-anchor="start">SB</text>
<rect x="1508.2" y="140" width="14" height="12.6" fill="#0a9e0a"/>
<text class="pl" transform="translate(1531 152) scale(1.050 1)" font-size="20.4" text-anchor="start">PL</text>
<rect x="1509.8" y="165.4" width="10.9" height="9.5" fill="none" stroke="#0fbe0f" stroke-width="3.3"/>
<text class="pl" transform="translate(1531 176.1) scale(1.050 1)" font-size="20.4" text-anchor="start">CB</text>
<ellipse cx="1515.2" cy="194" rx="7.2" ry="6.8" fill="#7a10f5"/>
<text class="pl" transform="translate(1531 199.7) scale(1.050 1)" font-size="20.4" text-anchor="start">RP</text>
<ellipse cx="1515.2" cy="217.9" rx="5.7" ry="5.3" fill="none" stroke="#a455f5" stroke-width="3"/>
<text class="pl" transform="translate(1531 223.7) scale(1.050 1)" font-size="20.4" text-anchor="start">HB</text>
<polygon points="1515.2,233.5 1523.9,241.5 1515.2,249.5 1506.5,241.5" fill="#fb7d06"/>
<text class="pl" transform="translate(1531 247.2) scale(1.050 1)" font-size="20.4" text-anchor="start">MR</text>
<polygon points="1515.2,259.1 1522.1,265.3 1515.2,271.5 1508.3,265.3" fill="none" stroke="#f5962d" stroke-width="2.5"/>
<text class="pl" transform="translate(1531 271.4) scale(1.050 1)" font-size="20.4" text-anchor="start">WF</text>
</svg></body></html>
